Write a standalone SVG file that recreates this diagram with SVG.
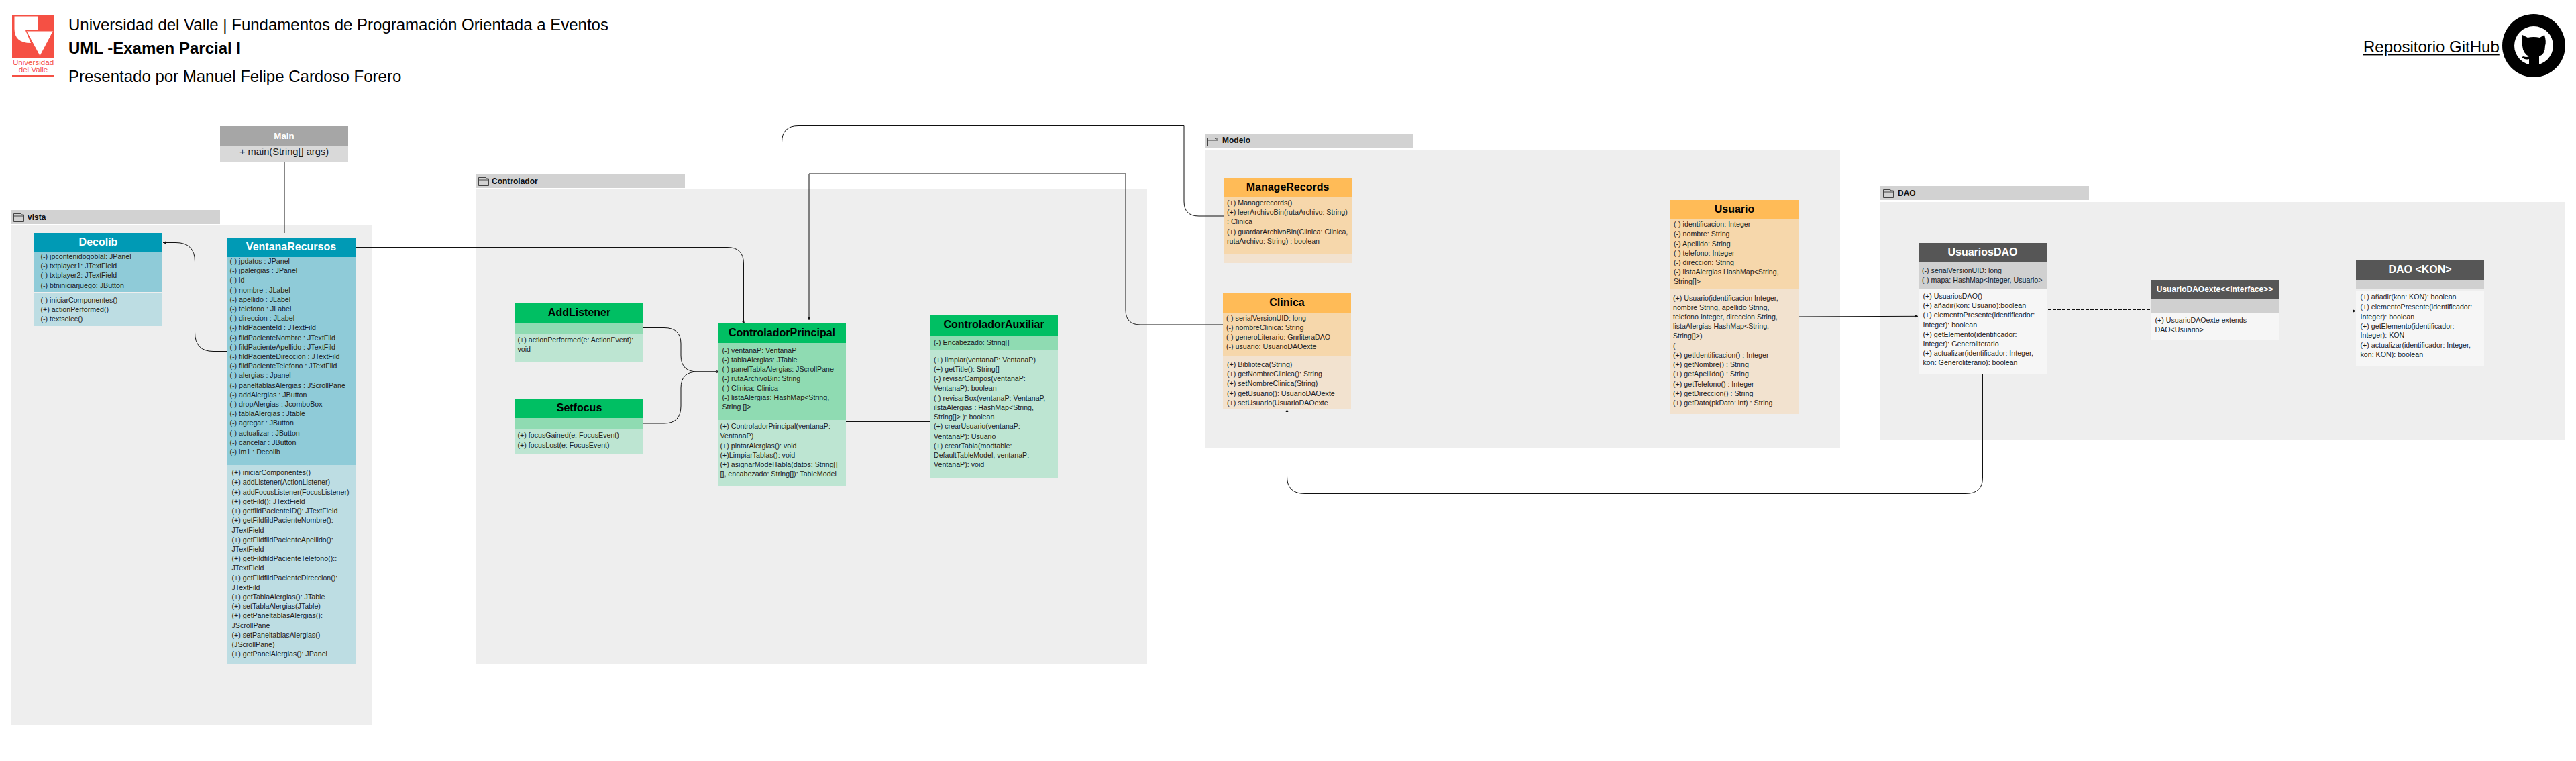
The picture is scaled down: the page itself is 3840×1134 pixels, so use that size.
<svg xmlns="http://www.w3.org/2000/svg" width="3840" height="1134" viewBox="0 0 3840 1134">
<style>
text{font-family:"Liberation Sans",Arial,sans-serif;fill:#1c1c1c}
.t{font-size:10.67px}
.h{font-size:16px;font-weight:bold;text-anchor:middle}
.w{fill:#fff}
.k{fill:#000}
.big{font-size:24px;fill:#000}
.pk{font-size:12px;font-weight:bold;fill:#111}
.tab{fill:#d2d2d2}
.body{fill:#eee}
.ic{fill:none;stroke:#444;stroke-width:1}
.tH{fill:#009ab5}.tA{fill:#8fcbd8}.tM{fill:#bddde3}
.gH{fill:#00bf63}.gA{fill:#8fdbb2}.gM{fill:#bde5d2}
.oH{fill:#ffbb57}.oA{fill:#f6d7ab}.oM{fill:#f2e2cf}
.dH{fill:#565656}.dA{fill:#d0d0d0}.dM{fill:#f6f6f6}
.c{fill:none;stroke:#111;stroke-width:1}
</style>
<defs>
<marker id="a" markerWidth="5" markerHeight="5" refX="4" refY="2.5" orient="auto" markerUnits="userSpaceOnUse"><path d="M0,0.5L4,2.5L0,4.5z" fill="#111"/></marker>
<marker id="o" markerWidth="5" markerHeight="5" refX="4" refY="2.5" orient="auto" markerUnits="userSpaceOnUse"><circle cx="2.5" cy="2.5" r="1.5" fill="none" stroke="#111" stroke-width="1"/></marker>
<g id="folder"><path class="ic" d="M0.5,13.5V1.5H11L12,3H15.5V13.5ZM0.5,5H15.5"/></g>
</defs>

<g id="header">
<rect x="18" y="23" width="63" height="63" fill="#f55044"/>
<path d="M21.5,24.5H57V45H38L46,64Q21.5,64 21.5,43Z" fill="#fff"/>
<path d="M39,46H79.5L59.5,84Z" fill="#fff" stroke="#f55044" stroke-width="1"/>
<text x="49.5" y="97" font-size="11.6" text-anchor="middle" style="fill:#f55044">Universidad</text>
<text x="49.5" y="108" font-size="11.6" text-anchor="middle" style="fill:#f55044">del Valle</text>
<rect x="18" y="112" width="63" height="2" fill="#f55044"/>
<text class="big" x="102" y="45">Universidad del Valle | Fundamentos de Programación Orientada a Eventos</text>
<text class="big" x="102" y="80" font-weight="bold">UML -Examen Parcial I</text>
<text class="big" x="102" y="122">Presentado por Manuel Felipe Cardoso Forero</text>
<text class="big" x="3523" y="78" text-decoration="underline">Repositorio GitHub</text>
<g id="github">
<circle cx="3777" cy="68" r="47" fill="#000"/>
<circle cx="3777" cy="68" r="29" fill="#fff"/>
<path d="M3760,52L3768,56Q3777,54 3786,56L3793,52Q3796,62 3794,68Q3794,81 3785,84V97H3770V88Q3764,90 3759,85L3762,84Q3766,86 3770,84Q3761,80 3760,68Q3758,60 3760,52Z" fill="#000"/>
</g>
</g>

<g id="package-vista">
<rect class="tab" x="16" y="313" width="312" height="21"/>
<rect class="body" x="16" y="335" width="538" height="745"/>
<use href="#folder" x="20" y="317"/>
<text class="pk" x="41" y="328">vista</text>
</g>
<g id="package-controlador">
<rect class="tab" x="709" y="259" width="312" height="21"/>
<rect class="body" x="709" y="281" width="1001" height="709"/>
<use href="#folder" x="713" y="263"/>
<text class="pk" x="733" y="274">Controlador</text>
</g>
<g id="package-modelo">
<rect class="tab" x="1796" y="200" width="311" height="21"/>
<rect class="body" x="1796" y="223" width="947" height="445"/>
<use href="#folder" x="1800" y="204"/>
<text class="pk" x="1822" y="213">Modelo</text>
</g>
<g id="package-dao">
<rect class="tab" x="2803" y="277" width="311" height="21"/>
<rect class="body" x="2803" y="301" width="1021" height="354"/>
<use href="#folder" x="2807" y="281"/>
<text class="pk" x="2829" y="292">DAO</text>
</g>

<g id="connectors">
<path class="c" d="M424,242V347"/>
<path class="c" d="M338,523.5H318Q290.5,523.5 290.5,495V390Q290.5,361.5 262,361.5H243" marker-end="url(#a)"/>
<path class="c" d="M530,368.5H1084Q1108.5,368.5 1108.5,393V481" marker-end="url(#o)"/>
<path class="c" d="M959,488.5H990Q1015,488.5 1015,512V530Q1015,554 1040,554H1070" marker-end="url(#o)"/>
<path class="c" d="M959,631H990Q1015,631 1015,605V578Q1015,554 1040,554H1070"/>
<path class="c" d="M1165.5,482V212Q1165.5,187.5 1190,187.5H1765V300Q1765,322 1787,322H1824"/>
<path class="c" d="M1823,484H1700Q1678,484 1678,462V259H1206V477" marker-end="url(#a)"/>
<path class="c" d="M1261,628.5H1386"/>
<path class="c" d="M2955.5,558V712Q2955.5,735.5 2930,735.5H1945Q1918.5,735.5 1918.5,710V610" marker-end="url(#a)"/>
<path class="c" d="M2675,472L2859,471.3" marker-end="url(#a)"/>
<path class="c" d="M3053,461.5H3212" stroke-dasharray="5 2" marker-end="url(#a)"/>
<path class="c" d="M3397,463.5H3512" marker-end="url(#a)"/>
</g>

<g id="Main">
<rect x="328" y="188" width="191" height="29" fill="#a6a6a6"/>
<rect x="328" y="217" width="191" height="25" fill="#d9d9d9"/>
<text class="w" x="423.5" y="206.5" font-size="13.33" font-weight="bold" text-anchor="middle" style="fill:#fff">Main</text>
<text x="423.5" y="231" font-size="14.67" text-anchor="middle">+ main(String[] args)</text>
</g>

<g id="Decolib">
<rect class="tH" x="51" y="347" width="191" height="29"/>
<rect class="tA" x="51" y="376" width="191" height="59"/>
<rect class="tM" x="51" y="436" width="191" height="50"/>
<text class="h w" x="146.5" y="366">Decolib</text>
<text class="t"><tspan x="60.5" y="386">(-) jpcontenidogoblal: JPanel</tspan><tspan x="60.5" y="400">(-) txtplayer1: JTextField</tspan><tspan x="60.5" y="414">(-) txtplayer2: JTextField</tspan><tspan x="60.5" y="429">(-) btniniciarjuego: JButton</tspan></text>
<text class="t"><tspan x="60.5" y="451">(-) iniciarComponentes()</tspan><tspan x="60.5" y="465">(+) actionPerformed()</tspan><tspan x="60.5" y="479">(-) textselec()</tspan></text>
</g>

<g id="VentanaRecursos">
<rect class="tH" x="338.5" y="354" width="191.5" height="29"/>
<rect class="tA" x="338.5" y="383" width="191.5" height="310"/>
<rect class="tM" x="338.5" y="693" width="191.5" height="296"/>
<text class="h w" x="434" y="373">VentanaRecursos</text>
<text class="t"><tspan x="342.5" y="393">(-) jpdatos : JPanel</tspan><tspan x="342.5" y="407">(-) jpalergias : JPanel</tspan><tspan x="342.5" y="421">(-) id</tspan><tspan x="342.5" y="436">(-) nombre : JLabel</tspan><tspan x="342.5" y="450">(-) apellido : JLabel</tspan><tspan x="342.5" y="464">(-) telefono : JLabel</tspan><tspan x="342.5" y="478">(-) direccion : JLabel</tspan><tspan x="342.5" y="492">(-) fildPacienteId : JTextFild</tspan><tspan x="342.5" y="507">(-) fildPacienteNombre : JTextFild</tspan><tspan x="342.5" y="521">(-) fildPacienteApellido : JTextFild</tspan><tspan x="342.5" y="535">(-) fildPacienteDireccion : JTextFild</tspan><tspan x="342.5" y="549">(-) fildPacienteTelefono : JTextFild</tspan><tspan x="342.5" y="563">(-) alergias : Jpanel</tspan><tspan x="342.5" y="578">(-) paneltablasAlergias : JScrollPane</tspan><tspan x="342.5" y="592">(-) addAlergias : JButton</tspan><tspan x="342.5" y="606">(-) dropAlergias : JcomboBox</tspan><tspan x="342.5" y="620">(-) tablaAlergias : Jtable</tspan><tspan x="342.5" y="634">(-) agregar : JButton</tspan><tspan x="342.5" y="649">(-) actualizar : JButton</tspan><tspan x="342.5" y="663">(-) cancelar : JButton</tspan><tspan x="342.5" y="677">(-) im1 : Decolib</tspan></text>
<text class="t"><tspan x="345.5" y="708">(+) iniciarComponentes()</tspan><tspan x="345.5" y="722">(+) addListener(ActionListener)</tspan><tspan x="345.5" y="737">(+) addFocusListener(FocusListener)</tspan><tspan x="345.5" y="751">(+) getFild(): JTextField</tspan><tspan x="345.5" y="765">(+) getfildPacienteID(): JTextField</tspan><tspan x="345.5" y="779">(+) getFildfildPacienteNombre():</tspan><tspan x="345.5" y="794">JTextField</tspan><tspan x="345.5" y="808">(+) getFildfildPacienteApellido():</tspan><tspan x="345.5" y="822">JTextField</tspan><tspan x="345.5" y="836">(+) getFildfildPacienteTelefono()::</tspan><tspan x="345.5" y="850">JTextField</tspan><tspan x="345.5" y="865">(+) getFildfildPacienteDireccion():</tspan><tspan x="345.5" y="879">JTextFild</tspan><tspan x="345.5" y="893">(+) getTablaAlergias(): JTable</tspan><tspan x="345.5" y="907">(+) setTablaAlergias(JTable)</tspan><tspan x="345.5" y="921">(+) getPaneltablasAlergias():</tspan><tspan x="345.5" y="936">JScrollPane</tspan><tspan x="345.5" y="950">(+) setPaneltablasAlergias()</tspan><tspan x="345.5" y="964">(JScrollPane)</tspan><tspan x="345.5" y="978">(+) getPanelAlergias(): JPanel</tspan></text>
</g>

<g id="AddListener">
<rect class="gH" x="768" y="452" width="191" height="29"/>
<rect class="gA" x="768" y="481" width="191" height="17"/>
<rect class="gM" x="768" y="498" width="191" height="42"/>
<text class="h k" x="863.5" y="471">AddListener</text>
<text class="t"><tspan x="771.5" y="510">(+) actionPerformed(e: ActionEvent):</tspan><tspan x="771.5" y="524">void</tspan></text>
</g>

<g id="Setfocus">
<rect class="gH" x="768" y="594" width="191" height="29"/>
<rect class="gA" x="768" y="623" width="191" height="17"/>
<rect class="gM" x="768" y="640" width="191" height="36"/>
<text class="h k" x="863.5" y="613">Setfocus</text>
<text class="t"><tspan x="771.5" y="652">(+) focusGained(e: FocusEvent)</tspan><tspan x="771.5" y="667">(+) focusLost(e: FocusEvent)</tspan></text>
</g>

<g id="ControladorPrincipal">
<rect class="gH" x="1070" y="482" width="191" height="29"/>
<rect class="gA" x="1070" y="511" width="191" height="115"/>
<rect class="gM" x="1070" y="626" width="191" height="98"/>
<text class="h k" x="1165.5" y="501">ControladorPrincipal</text>
<text class="t"><tspan x="1076.5" y="526">(-) ventanaP: VentanaP</tspan><tspan x="1076.5" y="540">(-) tablaAlergias: JTable</tspan><tspan x="1076.5" y="554">(-) panelTablaAlergias: JScrollPane</tspan><tspan x="1076.5" y="568">(-) rutaArchivoBin: String</tspan><tspan x="1076.5" y="582">(-) Clinica: Clinica</tspan><tspan x="1076.5" y="596">(-) listaAlergias: HashMap&lt;String,</tspan><tspan x="1076.5" y="610">String []&gt;</tspan></text>
<text class="t"><tspan x="1073.5" y="639">(+) ControladorPrincipal(ventanaP:</tspan><tspan x="1073.5" y="653">VentanaP)</tspan><tspan x="1073.5" y="668">(+) pintarAlergias(): void</tspan><tspan x="1073.5" y="682">(+)LimpiarTablas(): void</tspan><tspan x="1073.5" y="696">(+) asignarModelTabla(datos: String[]</tspan><tspan x="1073.5" y="710">[], encabezado: String[]): TableModel</tspan></text>
</g>

<g id="ControladorAuxiliar">
<rect class="gH" x="1386" y="470" width="191" height="30"/>
<rect class="gA" x="1386" y="500" width="191" height="22"/>
<rect class="gM" x="1386" y="522" width="191" height="191"/>
<text class="h k" x="1481.5" y="489">ControladorAuxiliar</text>
<text class="t" x="1392" y="514">(-) Encabezado: String[]</text>
<text class="t"><tspan x="1392" y="539.5">(+) limpiar(ventanaP: VentanaP)</tspan><tspan x="1392" y="553.5">(+) getTitle(): String[]</tspan><tspan x="1392" y="567.5">(-) revisarCampos(ventanaP:</tspan><tspan x="1392" y="581.5">VentanaP): boolean</tspan><tspan x="1392" y="596.5">(-) revisarBox(ventanaP: VentanaP,</tspan><tspan x="1392" y="610.5">ilstaAlergias : HashMap&lt;String,</tspan><tspan x="1392" y="624.5">String[]&gt; ): boolean</tspan><tspan x="1392" y="638.5">(+) crearUsuario(ventanaP:</tspan><tspan x="1392" y="653.5">VentanaP): Usuario</tspan><tspan x="1392" y="667.5">(+) crearTabla(modtable:</tspan><tspan x="1392" y="681.5">DefaultTableModel, ventanaP:</tspan><tspan x="1392" y="695.5">VentanaP): void</tspan></text>
</g>

<g id="ManageRecords">
<rect class="oH" x="1824" y="265" width="191" height="29"/>
<rect class="oA" x="1824" y="294" width="191" height="84"/>
<rect class="oM" x="1824" y="378" width="191" height="14"/>
<text class="h k" x="1919.5" y="284">ManageRecords</text>
<text class="t"><tspan x="1829" y="305.5">(+) Managerecords()</tspan><tspan x="1829" y="319.5">(+) leerArchivoBin(rutaArchivo: String)</tspan><tspan x="1829" y="333.5">: Clinica</tspan><tspan x="1829" y="348.5">(+) guardarArchivoBin(Clinica: Clinica,</tspan><tspan x="1829" y="362.5">rutaArchivo: String) : boolean</tspan></text>
</g>

<g id="Clinica">
<rect class="oH" x="1823" y="437" width="191" height="29"/>
<rect class="oA" x="1823" y="466" width="191" height="65"/>
<rect class="oM" x="1823" y="531" width="191" height="78"/>
<text class="h k" x="1918.5" y="456">Clinica</text>
<text class="t"><tspan x="1828" y="477.5">(-) serialVersionUID: long</tspan><tspan x="1828" y="491.5">(-) nombreClinica: String</tspan><tspan x="1828" y="505.5">(-) generoLiterario: GnrliteraDAO</tspan><tspan x="1828" y="519.5">(-) usuario: UsuarioDAOexte</tspan></text>
<text class="t"><tspan x="1829" y="546.5">(+) Biblioteca(String)</tspan><tspan x="1829" y="560.5">(+) getNombreClinica(): String</tspan><tspan x="1829" y="574.5">(+) setNombreClinica(String)</tspan><tspan x="1829" y="589.5">(+) getUsuario(): UsuarioDAOexte</tspan><tspan x="1829" y="603.5">(+) setUsuario(UsuarioDAOexte</tspan></text>
</g>

<g id="Usuario">
<rect class="oH" x="2490" y="298" width="191" height="29"/>
<rect class="oA" x="2490" y="327" width="191" height="103"/>
<rect class="oM" x="2490" y="430" width="191" height="187"/>
<text class="h k" x="2585.5" y="317">Usuario</text>
<text class="t"><tspan x="2495" y="338">(-) identificacion: Integer</tspan><tspan x="2495" y="352">(-) nombre: String</tspan><tspan x="2495" y="367">(-) Apellido: String</tspan><tspan x="2495" y="381">(-) telefono: Integer</tspan><tspan x="2495" y="395">(-) direccion: String</tspan><tspan x="2495" y="409">(-) listaAlergias HashMap&lt;String,</tspan><tspan x="2495" y="423">String[]&gt;</tspan></text>
<text class="t"><tspan x="2494" y="448">(+) Usuario(identificacion Integer,</tspan><tspan x="2494" y="462">nombre String, apellido String,</tspan><tspan x="2494" y="476">telefono Integer, direccion String,</tspan><tspan x="2494" y="490">listaAlergias HashMap&lt;String,</tspan><tspan x="2494" y="504">String[]&gt;)</tspan><tspan x="2494" y="519">(</tspan><tspan x="2494" y="533">(+) getIdentificacion() : Integer</tspan><tspan x="2494" y="547">(+) getNombre() : String</tspan><tspan x="2494" y="561">(+) getApellido() : String</tspan><tspan x="2494" y="576">(+) getTelefono() : Integer</tspan><tspan x="2494" y="590">(+) getDireccion() : String</tspan><tspan x="2494" y="604">(+) getDato(pkDato: int) : String</tspan></text>
</g>

<g id="UsuariosDAO">
<rect class="dH" x="2860" y="362" width="191" height="29"/>
<rect class="dA" x="2860" y="391" width="191" height="39"/>
<rect class="dM" x="2860" y="430" width="191" height="127"/>
<text class="h w" x="2955.5" y="381">UsuariosDAO</text>
<text class="t"><tspan x="2865" y="407">(-) serialVersionUID: long</tspan><tspan x="2865" y="421">(-) mapa: HashMap&lt;Integer, Usuario&gt;</tspan></text>
<text class="t"><tspan x="2866.5" y="445">(+) UsuariosDAO()</tspan><tspan x="2866.5" y="459">(+) añadir(kon: Usuario):boolean</tspan><tspan x="2866.5" y="473">(+) elementoPresente(identificador:</tspan><tspan x="2866.5" y="488">Integer): boolean</tspan><tspan x="2866.5" y="502">(+) getElemento(identificador:</tspan><tspan x="2866.5" y="516">Integer): Generoliterario</tspan><tspan x="2866.5" y="530">(+) actualizar(identificador: Integer,</tspan><tspan x="2866.5" y="544">kon: Generoliterario): boolean</tspan></text>
</g>

<g id="UsuarioDAOexte">
<rect class="dH" x="3206" y="417" width="191" height="28"/>
<rect class="dA" x="3206" y="445" width="191" height="21"/>
<rect class="dM" x="3206" y="466" width="191" height="40"/>
<text class="w" x="3301.5" y="435" font-size="12" font-weight="bold" text-anchor="middle" style="fill:#fff">UsuarioDAOexte&lt;&lt;Interface&gt;&gt;</text>
<text class="t"><tspan x="3212.5" y="481">(+) UsuarioDAOexte extends</tspan><tspan x="3212.5" y="495">DAO&lt;Usuario&gt;</tspan></text>
</g>

<g id="DAO-KON">
<rect class="dH" x="3512" y="388" width="191" height="29"/>
<rect class="dA" x="3512" y="417" width="191" height="14"/>
<rect class="dM" x="3512" y="434" width="191" height="112"/>
<text class="h w" x="3607.5" y="407">DAO &lt;KON&gt;</text>
<text class="t"><tspan x="3518.5" y="446">(+) añadir(kon: KON): boolean</tspan><tspan x="3518.5" y="461">(+) elementoPresente(identificador:</tspan><tspan x="3518.5" y="476">Integer): boolean</tspan><tspan x="3518.5" y="490">(+) getElemento(identificador:</tspan><tspan x="3518.5" y="503">Integer): KON</tspan><tspan x="3518.5" y="518">(+) actualizar(identificador: Integer,</tspan><tspan x="3518.5" y="532">kon: KON): boolean</tspan></text>
</g>
</svg>
